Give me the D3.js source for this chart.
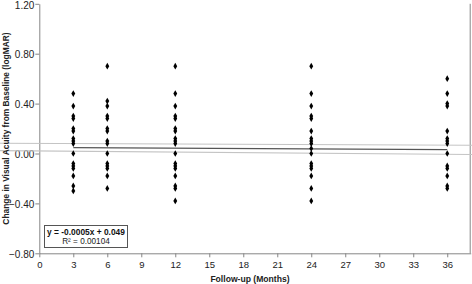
<!DOCTYPE html>
<html>
<head>
<meta charset="utf-8">
<script src="https://cdn.jsdelivr.net/npm/d3@7"></script>
<style>
  body { margin: 0; background: #fff; }
  text { font-family: "Liberation Sans", Arial, sans-serif; }
</style>
</head>
<body>
<div id="container"></div>
<script>
const width = 472;
const height = 284;

// data
const months = [3, 6, 12, 24, 36];
const change3 = [0.48, 0.38, 0.30, 0.28, 0.20, 0.18, 0.12, 0.10, 0.08, 0.00, -0.08, -0.10, -0.12, -0.18, -0.26, -0.30];
const change6 = [0.70, 0.42, 0.38, 0.30, 0.28, 0.20, 0.18, 0.10, 0.08, 0.00, -0.08, -0.10, -0.12, -0.18, -0.28];
const change12 = [0.70, 0.48, 0.38, 0.30, 0.28, 0.20, 0.18, 0.12, 0.10, 0.08, 0.00, -0.08, -0.10, -0.12, -0.18, -0.26, -0.28, -0.38];
const change24 = [0.70, 0.48, 0.38, 0.30, 0.28, 0.18, 0.12, 0.10, 0.08, 0.04, 0.00, -0.08, -0.10, -0.12, -0.18, -0.28, -0.38];
const change36 = [0.60, 0.48, 0.40, 0.38, 0.18, 0.12, 0.10, 0.08, 0.00, -0.10, -0.12, -0.18, -0.26, -0.28];
const allChanges = [change3, change6, change12, change24, change36];

const fitX = [3, 36];
const fitY = [0.0475, 0.031];
const bandX = [-3.5, 38.2];
const bandUpper = [0.082, 0.066];
const bandLower = [0.023, -0.008];

const xTicks = [0, 3, 6, 9, 12, 15, 18, 21, 24, 27, 30, 33, 36];
const yTicks = [-0.8, -0.4, 0, 0.4, 0.8, 1.2];
const eqText = "y = -0.0005x + 0.049";
const r2Text = "R² = 0.00104";

const viz = d3.select("#container").append("svg").attr("width", width).attr("height", height);

let xScale = d3.scaleLinear().domain([0, 38.07]).range([39.3, 470.7]);
let yScale = d3.scaleLinear().domain([-0.8, 1.2]).range([253.3, 3.8]);

// axes
let xAxisGroup = viz.append("g").attr("transform", "translate(0," + yScale(-0.8) + ")")
  .call(d3.axisBottom(xScale).tickValues(xTicks).tickSize(4).tickSizeOuter(0).tickFormat(d3.format("d")));
let yAxisGroup = viz.append("g").attr("transform", "translate(" + xScale(0) + ",0)")
  .call(d3.axisLeft(yScale).tickValues(yTicks).tickSize(4).tickSizeOuter(0).tickFormat(d3.format(".2f")));
[xAxisGroup, yAxisGroup].forEach(g => {
  g.select(".domain").attr("stroke", "#868686");
  g.selectAll(".tick line").attr("stroke", "#868686");
  g.selectAll(".tick text").attr("fill", "#222")
    .attr("font-family", "Liberation Sans, Arial, sans-serif");
});
xAxisGroup.selectAll(".tick text").attr("font-size", 9.5).attr("y", 8).attr("dy", "0.71em");
yAxisGroup.selectAll(".tick text").attr("font-size", 10).attr("x", -5).attr("dy", "0.42em");

// right border of plot area
viz.append("line")
  .attr("x1", xScale(38.07) - 0.5).attr("x2", xScale(38.07) - 0.5)
  .attr("y1", yScale(1.2)).attr("y2", yScale(-0.8))
  .attr("stroke", "#868686");

// confidence bands
let line = d3.line().x(d => xScale(d[0])).y(d => yScale(d[1]));
[bandUpper, bandLower].forEach(b => {
  viz.append("path").datum(bandX.map((x, i) => [x, b[i]]))
    .attr("d", line).attr("fill", "none").attr("stroke", "#c4c4c4").attr("stroke-width", 1.2);
});
// trend line
viz.append("path").datum(fitX.map((x, i) => [x, fitY[i]]))
  .attr("d", line).attr("fill", "none").attr("stroke", "#555").attr("stroke-width", 1.2);

// points
let points = [];
months.forEach((m, i) => allChanges[i].forEach(v => points.push({month: m, change: v})));
viz.selectAll(".datapoint").data(points).enter().append("path").attr("class", "datapoint")
  .attr("d", d3.symbol().type(d3.symbolDiamond).size(13))
  .attr("transform", d => "translate(" + xScale(d.month) + "," + yScale(d.change) + ")")
  .attr("fill", "#000");

// equation box
let box = viz.append("g");
box.append("rect").attr("x", 44.5).attr("y", 225.5).attr("width", 83).attr("height", 22)
  .attr("fill", "#fff").attr("stroke", "#555");
box.append("text").attr("x", 86).attr("y", 235.3).text(eqText)
  .attr("text-anchor", "middle").attr("font-size", 8.4).attr("font-weight", "bold").attr("fill", "#111");
box.append("text").attr("x", 86).attr("y", 244.3).text(r2Text)
  .attr("text-anchor", "middle").attr("font-size", 8.2).attr("fill", "#222");

// titles
viz.append("text").text("Follow-up (Months)")
  .attr("x", 250).attr("y", 282).attr("text-anchor", "middle")
  .attr("font-size", 8.6).attr("font-weight", "bold").attr("fill", "#222");
viz.append("text").text("Change in Visual Acuity from Baseline (logMAR)")
  .attr("transform", "translate(8.5," + yScale(0.2) + ") rotate(-90)")
  .attr("text-anchor", "middle")
  .attr("font-size", 8.4).attr("font-weight", "bold").attr("fill", "#222");
</script>
</body>
</html>
